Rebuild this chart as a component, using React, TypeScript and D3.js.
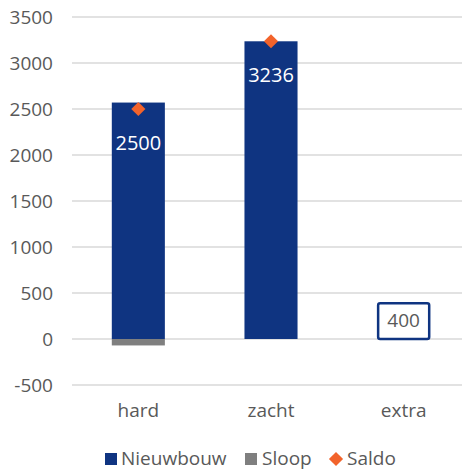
import React from "react";
import * as d3 from "d3";

const categories = ["hard", "zacht", "extra"];
const nieuwbouw = [2570, 3236, 0];
const sloop = [-70, 0, 0];
const saldo = [2500, 3236, null as number | null];
const extraValue = [0, 0, 400];
const barLabels = ["2500", "3236", ""];
const yTicks = [-500, 0, 500, 1000, 1500, 2000, 2500, 3000, 3500];
const legendItems = ["Nieuwbouw", "Sloop", "Saldo"];

const W = 462;
const H = 471;
const NAVY = "#0f3481";
const GREY = "#7f7f7f";
const ORANGE = "#f2632b";
const TEXT = "#595959";
const FONT = "'Open Sans', 'Noto Sans', sans-serif";

export default function App() {
  const x = d3.scaleBand<string>().domain(categories).range([72, 470]).paddingInner(0.6).paddingOuter(0.3);
  const y = d3.scaleLinear().domain([-500, 3500]).range([385, 17]);
  const bw = x.bandwidth();
  const diamond = d3.symbol().type(d3.symbolDiamond2).size(128)();

  return (
    <svg width={W} height={H} style={{ position: "absolute", left: 0, top: 0 }} fontFamily={FONT}>
      <rect width={W} height={H} fill="#fff" />
      {yTicks.map((t) => (
        <g key={t}>
          <line x1={72} x2={W} y1={y(t)} y2={y(t)} stroke="#d9d9d9" strokeWidth={1.5} />
          <text x={53} y={y(t)} dy="0.36em" textAnchor="end" fontSize={19} fill={TEXT}>
            {t}
          </text>
        </g>
      ))}
      {categories.map((c, i) => {
        const x0 = x(c)!;
        return (
          <g key={c}>
            {nieuwbouw[i] > 0 && (
              <rect x={x0} width={bw} y={y(nieuwbouw[i])} height={y(0) - y(nieuwbouw[i])} fill={NAVY} />
            )}
            {sloop[i] < 0 && (
              <rect x={x0} width={bw} y={y(0)} height={y(sloop[i]) - y(0)} fill={GREY} />
            )}
            {extraValue[i] > 0 && (
              <g>
                <rect
                  x={x0 + 1}
                  width={bw - 2}
                  y={y(extraValue[i]) + 1}
                  height={y(0) - y(extraValue[i]) - 1}
                  fill="#fff"
                  stroke={NAVY}
                  strokeWidth={2.5}
                  rx={2}
                />
                <text
                  x={x0 + bw / 2}
                  y={(y(extraValue[i]) + y(0)) / 2}
                  dy="0.36em"
                  textAnchor="middle"
                  fontSize={19}
                  fill={TEXT}
                >
                  {extraValue[i]}
                </text>
              </g>
            )}
            {saldo[i] != null && (
              <g>
                <text
                  x={x0 + bw / 2}
                  y={y(saldo[i] as number) + 34}
                  dy="0.36em"
                  textAnchor="middle"
                  fontSize={20}
                  fill="#fff"
                >
                  {barLabels[i]}
                </text>
                <path
                  d={diamond!}
                  transform={`translate(${x0 + bw / 2},${y(saldo[i] as number)})`}
                  fill={ORANGE}
                />
              </g>
            )}
            <text x={x0 + bw / 2} y={417} textAnchor="middle" fontSize={19} fill={TEXT}>
              {c}
            </text>
          </g>
        );
      })}
      <g>
        <rect x={105} y={453} width={12} height={12} fill={NAVY} />
        <text x={121} y={465} fontSize={19} fill={TEXT}>{legendItems[0]}</text>
        <rect x={245} y={453} width={12} height={12} fill={GREY} />
        <text x={262} y={465} fontSize={19} fill={TEXT}>{legendItems[1]}</text>
        <path d={diamond!} transform="translate(336,459)" fill={ORANGE} />
        <text x={347} y={465} fontSize={19} fill={TEXT}>{legendItems[2]}</text>
      </g>
    </svg>
  );
}
